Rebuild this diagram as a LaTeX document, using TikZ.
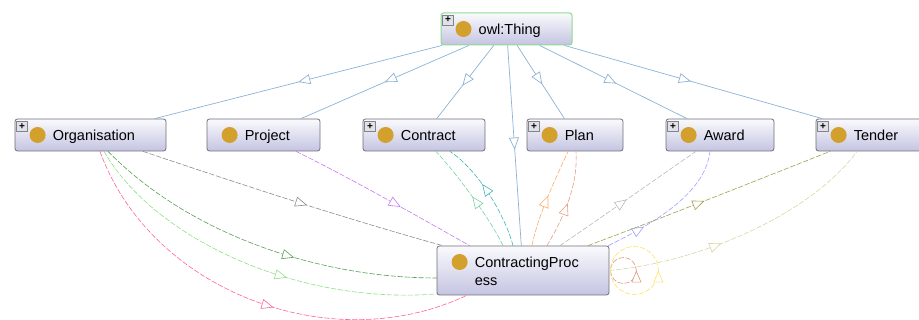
\documentclass[tikz,border=0pt]{standalone}
\usepackage{fontspec}
\setmainfont{Liberation Sans}
\usetikzlibrary{arrows.meta,decorations.markings}

\definecolor{boxtop}{RGB}{250,250,253}
\definecolor{boxbottom}{RGB}{196,196,226}
\definecolor{boxline}{RGB}{110,110,122}
\definecolor{thingline}{RGB}{140,220,140}
\definecolor{plusline}{RGB}{130,130,140}
\definecolor{plusfill}{RGB}{225,225,232}
\definecolor{dotgold}{RGB}{212,160,45}
\definecolor{subblue}{RGB}{140,178,214}
\definecolor{propgray}{RGB}{140,140,140}
\definecolor{proppurple}{RGB}{200,120,240}
\definecolor{propdkgreen}{RGB}{90,160,90}
\definecolor{propltgreen}{RGB}{140,225,130}
\definecolor{proppink}{RGB}{255,100,150}
\definecolor{propltteal}{RGB}{120,210,170}
\definecolor{propteal}{RGB}{60,180,180}
\definecolor{proporange}{RGB}{255,170,100}
\definecolor{propsalmon}{RGB}{230,160,130}
\definecolor{propltgray}{RGB}{185,185,185}
\definecolor{proplavender}{RGB}{160,160,255}
\definecolor{propolive}{RGB}{160,160,80}
\definecolor{propltolive}{RGB}{215,215,165}
\definecolor{loopsalmon}{RGB}{225,150,120}
\definecolor{loopyellow}{RGB}{255,225,100}

\begin{document}
\begin{tikzpicture}[x=1pt, y=-1pt, line join=round, line cap=round,
  font=\fontsize{14.5}{18}\selectfont,
  classbox/.style={draw=boxline, line width=0.8pt, rounded corners=2.5pt,
    top color=boxtop, bottom color=boxbottom, minimum height=32pt, inner sep=0pt},
  plusbox/.style={draw=plusline, fill=plusfill, minimum width=11pt, minimum height=10pt,
    inner sep=0pt, font=\bfseries\fontsize{10}{10}\selectfont},
  classdot/.style={circle, fill=dotgold, minimum size=16pt, inner sep=0pt},
  classname/.style={anchor=west, inner sep=0pt, text height=10.4pt, text depth=0pt},
  midarrow/.style={postaction={decorate}, decoration={markings,
    mark=at position #1 with {\arrow{Triangle[open, fill=white, length=12pt, width=10pt]}}}},
  midarrow/.default=0.5,
  subline/.style={draw=subblue, line width=0.7pt, midarrow=#1},
  subline/.default=0.5,
  propline/.style={dash pattern=on 5pt off 2pt, line width=0.6pt, midarrow=#1},
  propline/.default=0.5,
  loopline/.style={dash pattern=on 5pt off 2pt, line width=0.6pt, postaction={decorate},
    decoration={markings, mark=at position 0 with
      {\arrowreversed{Triangle[open, fill=white, length=12pt, width=10pt]}}}}]
\useasboundingbox (0,0) rectangle (919,320);
\clip (0,0) rectangle (919,320);

% class boxes
\node[classbox, minimum width=131pt, draw=thingline, line width=1pt] (thing) at (506.5,29) {};
\node[classbox, minimum width=151pt] (org) at (90.5,135) {};
\node[classbox, minimum width=113pt] (project) at (263.5,135) {};
\node[classbox, minimum width=122pt] (contract) at (424,135) {};
\node[classbox, minimum width=96pt] (plan) at (575,135) {};
\node[classbox, minimum width=108pt] (award) at (720,135) {};
\node[classbox, minimum width=128pt] (tender) at (880,135) {};
\node[classbox, minimum width=172pt, minimum height=49pt] (cp) at (523,270.5) {};

% icons and names
\foreach \n/\t in {thing/owl:Thing, org/Organisation, project/Project, contract/Contract,
                   plan/Plan, award/Award, tender/Tender}{
  \node[classdot] (\n-dot) at ([xshift=23pt]\n.west) {};
  \node[classname] (\n-name) at ([xshift=38pt]\n.west) {\t};
}
\foreach \n in {thing, org, contract, plan, award, tender}
  \node[plusbox] (\n-plus) at ([xshift=7.5pt, yshift=-7.5pt]\n.north west) {+};
\node[classdot] (cp-dot) at ([xshift=23pt, yshift=8.5pt]cp.west) {};
\node[anchor=north west, inner sep=0pt, align=left] (cp-name)
  at ([xshift=38pt, yshift=14pt]cp.west) {ContractingProc\\ess};

% subclass links
\foreach \n/\p in {org/0.5, project/0.5, contract/0.55, cp/0.52, plan/0.53, award/0.52, tender/0.49}
  \draw[subline=\p] (thing) -- (\n);

% properties into ContractingProcess
\draw[propline=0.55, draw=propgray] ([xshift=52.5pt]org.south)
  .. controls (243,185) and (343,218) .. ([xshift=6pt]cp.north west);
\draw[propline=0.6, draw=proppurple] ([xshift=32.5pt]project.south)
  .. controls (350,178) and (410,212) .. ([xshift=33pt]cp.north west);
\draw[propline=0.6, draw=propdkgreen] ([xshift=17.5pt]org.south)
  .. controls (190,235) and (320,278) .. ([yshift=-7.5pt]cp.west);
\draw[propline=0.6, draw=propltgreen] ([xshift=13.5pt]org.south)
  .. controls (155,240) and (300,305) .. ([yshift=1.5pt]cp.south west);
\draw[propline=0.55, draw=proppink] ([xshift=9.5pt]org.south)
  .. controls (150,290) and (330,360) .. ([xshift=30pt]cp.south west);

% properties out of ContractingProcess
\draw[propline=0.5, draw=propltteal] ([xshift=-20pt]cp.north)
  .. controls (488,215) and (455,172) .. ([xshift=12pt]contract.south);
\draw[propline=0.6, draw=propteal] ([xshift=-10pt]cp.north)
  .. controls (505,215) and (478,170) .. ([xshift=26pt]contract.south);
\draw[propline=0.52, draw=proporange] ([xshift=9pt]cp.north)
  .. controls (538,215) and (555,180) .. ([xshift=-7pt]plan.south);
\draw[propline=0.47, draw=propsalmon] ([xshift=24pt]cp.north)
  .. controls (565,215) and (578,185) .. ([xshift=1pt]plan.south);
\draw[propline=0.49, draw=propltgray] ([xshift=37pt]cp.north)
  .. controls (605,215) and (650,183) .. ([xshift=-24pt]award.south);
\draw[propline=0.28, draw=proplavender] ([xshift=-1pt]cp.north east)
  .. controls (650,225) and (705,195) .. ([xshift=-10pt]award.south);
\draw[propline=0.48, draw=propolive] ([xshift=65pt]cp.north)
  .. controls (670,215) and (750,183) .. ([xshift=-50pt]tender.south);
\draw[propline=0.41, draw=propltolive] (cp.east)
  .. controls (700,262) and (810,215) .. ([xshift=-23pt]tender.south);

% self loops
\draw[loopline, draw=loopsalmon] ([xshift=27pt]cp.east) arc[start angle=0, end angle=360, radius=13];
\draw[loopline, draw=loopyellow] ([xshift=49pt]cp.east) arc[start angle=0, end angle=360, radius=24];
\end{tikzpicture}
\end{document}
